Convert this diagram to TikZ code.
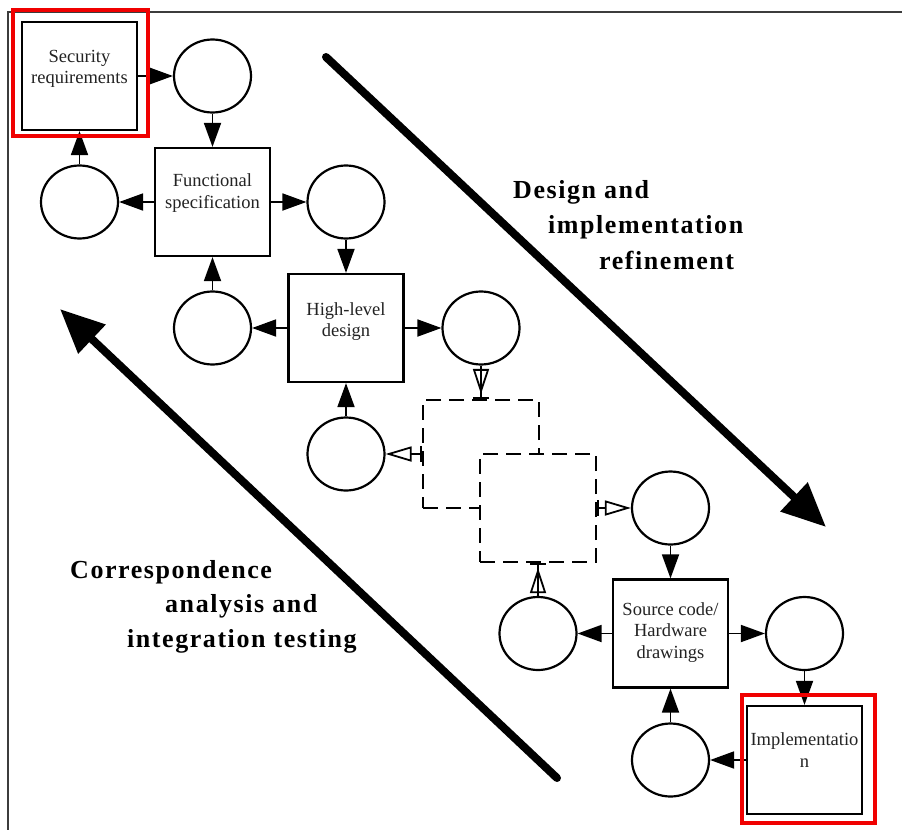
\documentclass[tikz,border=0pt]{standalone}
\usepackage{fontspec}
\setmainfont{Liberation Serif}
\newfontfamily\widefont[LetterSpace=6]{Liberation Serif}
\usetikzlibrary{arrows.meta,shapes.geometric,calc}
\definecolor{frameline}{RGB}{60,60,60}
\definecolor{markred}{RGB}{240,0,0}
\definecolor{inkgray}{RGB}{35,35,35}
\begin{document}
\begin{tikzpicture}[x=1pt,y=-1pt,
  box/.style={draw, line width=2.2pt, rectangle, minimum width=115pt, minimum height=108pt, inner sep=0pt},
  boxtext/.style={font=\fontsize{18.5}{21.5}\selectfont, align=center, text=inkgray, inner sep=0pt},
  state/.style={draw, line width=2.2pt, ellipse, minimum width=77pt, minimum height=73pt, inner sep=0pt},
  dbox/.style={draw, line width=2.5pt, dash pattern=on 15pt off 8pt, rectangle, minimum width=116pt, minimum height=108pt, inner sep=0pt, fill=white},
  flow/.style={line width=1.8pt, -{Triangle[length=24pt,width=17pt]}},
  hollowin/.style={line width=1.8pt, -{Triangle[open,length=25pt,width=16pt,sep=3pt]Bar[width=16pt]}},
  hollowout/.style={line width=1.8pt, {Bar[width=16pt]}-{Triangle[open,length=26pt,width=15pt]}},
  bigarrow/.style={line width=8pt, line cap=round, -{Triangle[length=44pt,width=38pt]}},
  biglbl/.style={font=\widefont\bfseries\fontsize{26}{30}\selectfont, inner sep=0pt, anchor=base west},
  redframe/.style={draw=markred, line width=3.5pt}
]
% canvas and frame
\fill[white] (0,0) rectangle (902,830);
\useasboundingbox (0,0) rectangle (902,830);
\draw[frameline, line width=1.5pt] (902,12) -- (8,12) -- (8,830);

% refinement arrows
\coordinate (dtail) at (326,57);
\coordinate (dhead) at (826,527);
\draw[bigarrow] (dtail) -- (dhead);
\coordinate (ctail) at (557,778);
\coordinate (chead) at (60,309);
\draw[bigarrow] (ctail) -- (chead);

% labels
\node[biglbl] (t1) at (513,198) {Design and};
\node[biglbl] (t2) at (548,233) {implementation};
\node[biglbl] (t3) at (599,269) {refinement};
\node[biglbl] (t4) at (70,578) {Correspondence};
\node[biglbl] (t5) at (165,612) {analysis and};
\node[biglbl] (t6) at (127,647) {integration testing};

% specification boxes
\node[box, label={[boxtext,yshift=7pt]center:{Security\\requirements}}] (sr) at (79.5,76) {};
\node[box, label={[boxtext,yshift=9pt]center:{Functional\\specification}}] (fs) at (212.5,202) {};
\node[box, label={[boxtext,yshift=6.5pt]center:{High-level\\design}}] (hld) at (346,328) {};
\node[dbox] (dA) at (481,454) {};
\node[dbox] (dB) at (538,508) {};
\node[box, label={[boxtext,yshift=1pt]center:{Source code/\\Hardware\\drawings}}] (src) at (670.5,633.5) {};
\node[box, label={[boxtext,yshift=10pt]center:{Implementatio\\n}}] (impl) at (804.5,760) {};

% verification states
\node[state] (c1) at (212.5,76) {};
\node[state] (c2) at (79.5,202) {};
\node[state] (c3) at (346,202) {};
\node[state] (c4) at (212.5,328) {};
\node[state] (c5) at (481,328) {};
\node[state] (c6) at (346,454) {};
\node[state] (c7) at (670.5,508) {};
\node[state] (c8) at (538,633.5) {};
\node[state] (c9) at (804.5,633.5) {};
\node[state] (c10) at (670.5,760) {};

% connectors
\draw[flow] (sr) -- (c1);
\draw[flow] (c1) -- (fs);
\draw[flow] (fs) -- (c2);
\draw[flow] (c2) -- (sr);
\draw[flow] (fs) -- (c3);
\draw[flow] (c3) -- (hld);
\draw[flow] (hld) -- (c4);
\draw[flow] (c4) -- (fs);
\draw[flow] (hld) -- (c5);
\draw[flow] (c6) -- (hld);
\draw[hollowin] (c5) -- (dA);
\draw[hollowout] (dA) -- (c6);
\draw[hollowout] (dB) -- (c7);
\draw[hollowin] (c8) -- (dB);
\draw[flow] (c7) -- (src);
\draw[flow] (src) -- (c8);
\draw[flow] (src) -- (c9);
\draw[flow] (c9) -- (impl);
\draw[flow] (c10) -- (src);
\draw[flow] (impl) -- (c10);

% highlight frames
\draw[redframe] ($(sr.north west)+(-7.7,-11)$) rectangle ($(sr.south east)+(9.7,5)$);
\draw[redframe] ($(impl.north west)+(-4,-10)$) rectangle ($(impl.south east)+(12,8)$);
\end{tikzpicture}
\end{document}
